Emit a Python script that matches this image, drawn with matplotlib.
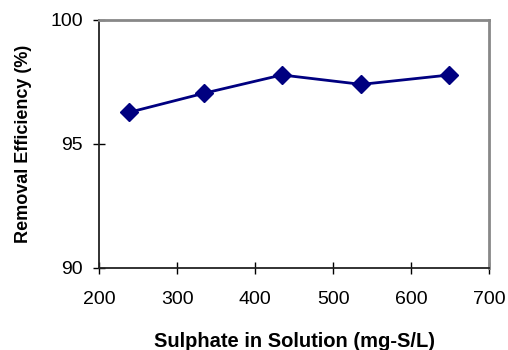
import matplotlib
matplotlib.use("Agg")
import matplotlib.pyplot as plt

sulphate = [238, 334, 434, 536, 649]
efficiency = [96.27, 97.04, 97.78, 97.40, 97.78]
x_ticks = [200, 300, 400, 500, 600, 700]
y_ticks = [90, 95, 100]

plt.rcParams['font.family'] = ['Liberation Sans', 'DejaVu Sans']

fig = plt.figure(figsize=(5.08, 3.5), dpi=100)
ax = fig.add_axes([0.1955, 0.235, 0.7675, 0.708])

ax.plot(sulphate, efficiency, color='#000080', linewidth=2,
        marker='D', markersize=9, markerfacecolor='#000080',
        markeredgecolor='#000080', clip_on=False)

ax.set_xlim(200, 700)
ax.set_ylim(90, 100)
ax.set_xticks(x_ticks)
ax.set_yticks(y_ticks)
ax.tick_params(direction='inout', length=8, width=1, labelsize=14)
ax.tick_params(axis='x', pad=13)
ax.tick_params(axis='y', pad=8)

for side in ['left', 'bottom']:
    ax.spines[side].set_color('#222222')
    ax.spines[side].set_linewidth(1.3)
for side in ['top', 'right']:
    ax.spines[side].set_color('#888888')
    ax.spines[side].set_linewidth(2)

ax.set_xlabel('Sulphate in Solution (mg-S/L)', fontsize=14.5, fontweight='bold', labelpad=17)
ax.set_ylabel('Removal Efficiency (%)', fontsize=13, fontweight='bold', labelpad=13)

fig.savefig('out.png', dpi=100)
